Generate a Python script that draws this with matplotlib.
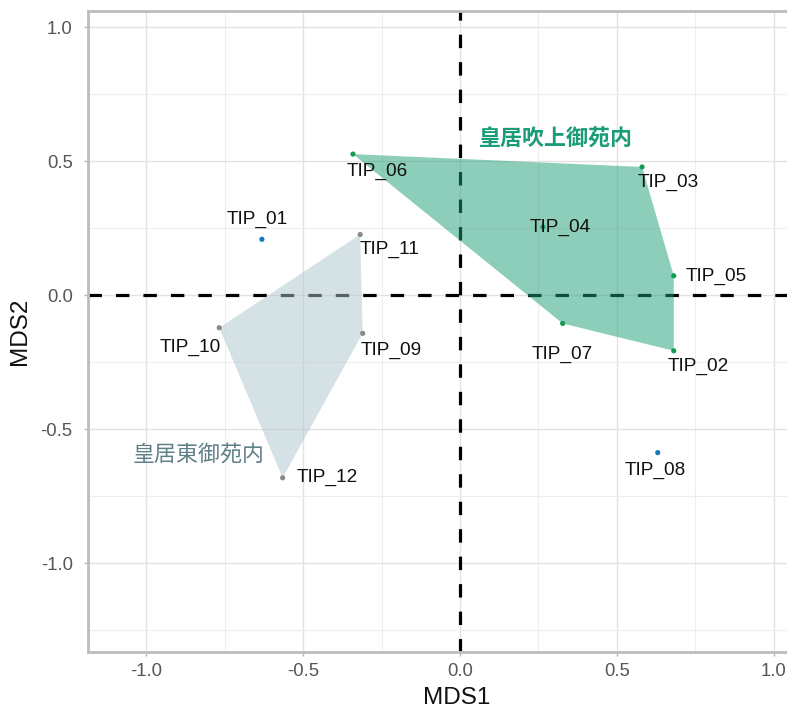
import matplotlib
matplotlib.use("Agg")
import matplotlib.pyplot as plt
from matplotlib.patches import Polygon
import numpy as np

# ---------------- data ----------------
sites = ["TIP_01", "TIP_02", "TIP_03", "TIP_04", "TIP_05", "TIP_06",
         "TIP_07", "TIP_08", "TIP_09", "TIP_10", "TIP_11", "TIP_12"]
mds1 = [-0.631, 0.681, 0.580, 0.264, 0.681, -0.341,
        0.327, 0.630, -0.310, -0.767, -0.318, -0.565]
mds2 = [0.208, -0.208, 0.478, 0.254, 0.072, 0.526,
        -0.106, -0.588, -0.143, -0.122, 0.226, -0.682]
group = ["other", "fukiage", "fukiage", "fukiage", "fukiage", "fukiage",
         "fukiage", "other", "higashi", "higashi", "higashi", "higashi"]
group_names = {"fukiage": "皇居吹上御苑内", "higashi": "皇居東御苑内"}

# ---------------- style / layout ----------------
point_colors = {"fukiage": "#169b57", "higashi": "#8a8a8a", "other": "#137ab8"}
hull_colors = {"fukiage": "#1b9e77", "higashi": "#abc6cf"}
group_text_colors = {"fukiage": "#1a9c78", "higashi": "#5f7f86"}
group_text_pos = {"fukiage": (0.306, 0.582), "higashi": (-0.831, -0.597)}
group_text_weight = {"fukiage": "bold", "higashi": "normal"}
label_offsets = {  # pixels
    "TIP_01": (-5, 20), "TIP_02": (24, -16), "TIP_03": (26, -15),
    "TIP_04": (17, 0), "TIP_05": (42, -1), "TIP_06": (24, -17),
    "TIP_07": (0, -31), "TIP_08": (-2, -18), "TIP_09": (29, -17),
    "TIP_10": (-29, -20), "TIP_11": (29, -15), "TIP_12": (45, 0),
}

LATIN = ["Liberation Sans", "DejaVu Sans"]
CJK = ["Noto Sans CJK JP", "DejaVu Sans"]
plt.rcParams["font.family"] = LATIN


def convex_hull(pts):
    pts = sorted(set(pts))
    if len(pts) <= 2:
        return pts

    def cross(o, a, b):
        return (a[0] - o[0]) * (b[1] - o[1]) - (a[1] - o[1]) * (b[0] - o[0])

    lower, upper = [], []
    for p in pts:
        while len(lower) >= 2 and cross(lower[-2], lower[-1], p) <= 0:
            lower.pop()
        lower.append(p)
    for p in reversed(pts):
        while len(upper) >= 2 and cross(upper[-2], upper[-1], p) <= 0:
            upper.pop()
        upper.append(p)
    return lower[:-1] + upper[:-1]


W, H = 787, 710
fig = plt.figure(figsize=(W / 100, H / 100), dpi=100)
left_px, right_px, top_px, bot_px = 88, 826, 11, 652
ax = fig.add_axes([left_px / W, 1 - bot_px / H,
                   (right_px - left_px) / W, (bot_px - top_px) / H])

ax.set_xlim(-1.185, 1.166)
ax.set_ylim(-1.332, 1.060)

# grid
ax.set_xticks([-1.0, -0.5, 0.0, 0.5, 1.0])
ax.set_yticks([-1.0, -0.5, 0.0, 0.5, 1.0])
ax.set_xticks([-0.75, -0.25, 0.25, 0.75], minor=True)
ax.set_yticks([-1.25, -0.75, -0.25, 0.25, 0.75], minor=True)
ax.grid(True, which="major", color="#e6e1e1", linewidth=1.0, zorder=0)
ax.grid(True, which="minor", color="#f1eded", linewidth=0.8, zorder=0)
ax.set_axisbelow(True)
ax.set_xticklabels(["-1.0", "-0.5", "0.0", "0.5", "1.0"])
ax.set_yticklabels(["-1.0", "-0.5", "0.0", "0.5", "1.0"])
ax.tick_params(which="major", length=3, width=1, color="#b5b5b5",
               labelsize=13.3, labelcolor="#5a5454")
ax.tick_params(axis="x", pad=5)
ax.tick_params(axis="y", pad=8)
ax.tick_params(which="minor", length=0)

for side in ["left", "bottom", "top", "right"]:
    ax.spines[side].set_color("#bdbdbd")
    ax.spines[side].set_linewidth(2.0)

# reference lines
ax.axhline(0, color="black", linewidth=2.3, dashes=(4.2, 4.4), zorder=2)
ax.axvline(0, color="black", linewidth=2.3, dashes=(4.2, 4.4), zorder=2)

# hulls
for g in ["fukiage", "higashi"]:
    pts = [(x, y) for x, y, gg in zip(mds1, mds2, group) if gg == g]
    hull = convex_hull(pts)
    poly = Polygon(hull, closed=True, facecolor=hull_colors[g], alpha=0.5,
                   edgecolor="none", zorder=3)
    ax.add_patch(poly)
    tx, ty = group_text_pos[g]
    ax.text(tx, ty, group_names[g], family=CJK, fontsize=15.8,
            fontweight=group_text_weight[g], color=group_text_colors[g],
            ha="center", va="center", zorder=6)

# points
for name, x, y, g in zip(sites, mds1, mds2, group):
    ax.scatter([x], [y], s=14, color=point_colors[g],
               zorder=2.5 if name == "TIP_04" else 4, edgecolors="none")

# labels
for name, x, y in zip(sites, mds1, mds2):
    dx, dy = label_offsets[name]
    ax.annotate(name, (x, y), xytext=(dx, dy), textcoords="offset pixels",
                ha="center", va="center", fontsize=13.7, color="#111111",
                zorder=6)

ax.set_xlabel("MDS1", fontsize=17.5, color="#111111", labelpad=5)
ax.set_ylabel("MDS2", fontsize=17.5, color="#111111", labelpad=7)

fig.savefig("out.png", dpi=100)
